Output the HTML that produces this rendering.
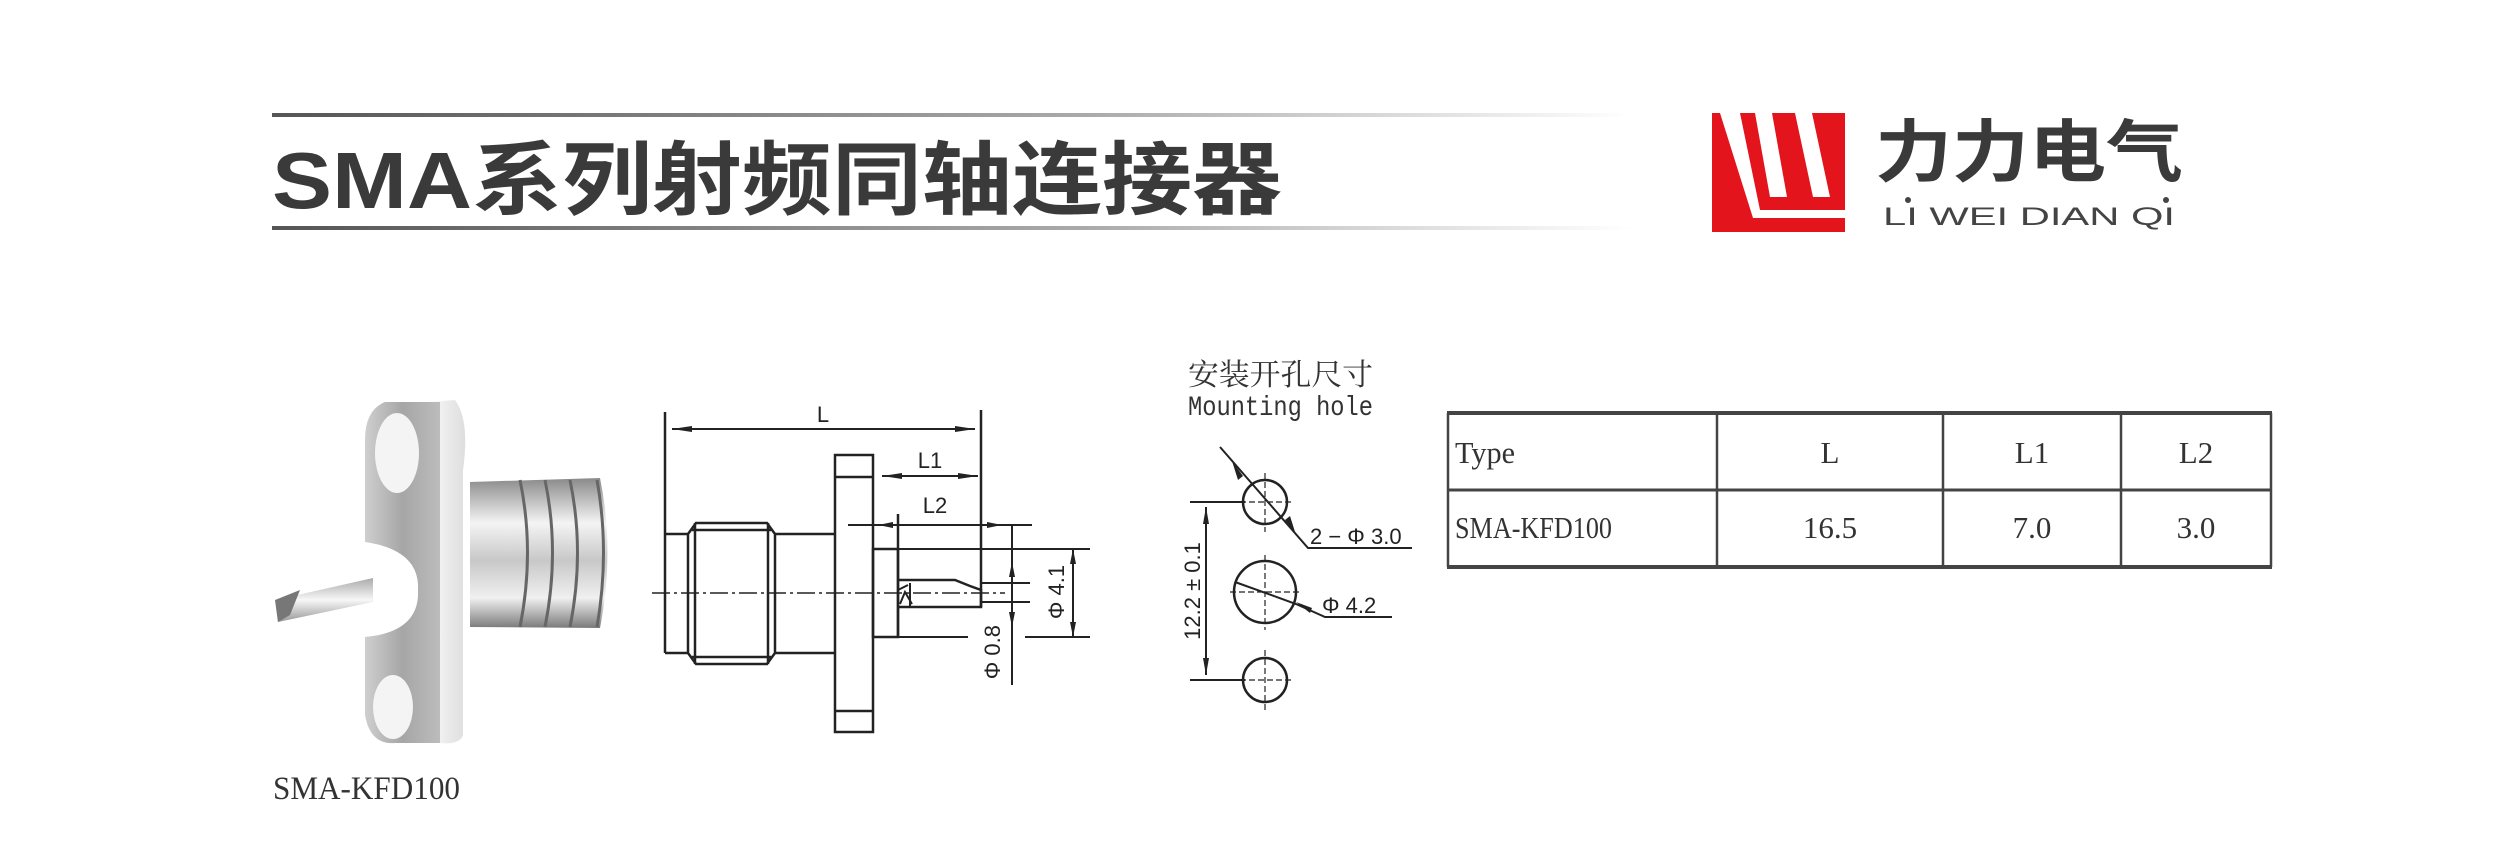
<!DOCTYPE html>
<html><head><meta charset="utf-8"><style>
html,body{margin:0;padding:0;background:#fff;}
svg{display:block;}
.ser{font-family:"Liberation Serif","Noto Serif CJK SC",serif;}
.mono{font-family:"Liberation Mono","Noto Sans CJK SC",monospace;}
.sans{font-family:"Liberation Sans","Noto Sans CJK SC",sans-serif;}
</style></head><body>
<svg width="2515" height="859" viewBox="0 0 2515 859" xmlns="http://www.w3.org/2000/svg">
<defs>
<linearGradient id="ln" x1="0" x2="1" y1="0" y2="0">
<stop offset="0" stop-color="#555"/><stop offset="0.6" stop-color="#aaa"/><stop offset="1" stop-color="#fff"/></linearGradient>
<linearGradient id="fl" x1="0" x2="1"><stop offset="0" stop-color="#cfcfcf"/><stop offset="0.5" stop-color="#a6a6a6"/><stop offset="1" stop-color="#bcbcbc"/></linearGradient>
<linearGradient id="fs" x1="0" x2="1"><stop offset="0" stop-color="#f7f7f7"/><stop offset="1" stop-color="#dedede"/></linearGradient>
<linearGradient id="cy" x1="0" y1="0" x2="0" y2="1"><stop offset="0" stop-color="#8a8a8a"/><stop offset="0.3" stop-color="#f4f4f4"/><stop offset="0.55" stop-color="#c8c8c8"/><stop offset="0.8" stop-color="#f0f0f0"/><stop offset="1" stop-color="#7a7a7a"/></linearGradient>
<linearGradient id="pn" x1="0" y1="0" x2="0" y2="1"><stop offset="0" stop-color="#aaa"/><stop offset="0.5" stop-color="#f7f7f7"/><stop offset="1" stop-color="#999"/></linearGradient>
</defs>

<rect x="272" y="113" width="1360" height="4" fill="url(#ln)"/>
<rect x="272" y="226" width="1360" height="4" fill="url(#ln)"/>
<text x="272" y="208" class="sans" font-size="80" font-weight="bold" fill="#3a3a3a" textLength="1010" lengthAdjust="spacingAndGlyphs">SMA系列射频同轴连接器</text>

<rect x="1712" y="113" width="133" height="119" fill="#e3141b"/>
<polygon points="1720,113 1740,113 1760,210 1845,210 1845,218 1753,218" fill="#fff"/>
<polygon points="1755,113 1772,113 1787,197 1770,197" fill="#fff"/>
<polygon points="1795,113 1812,113 1830,197 1813,197" fill="#fff"/>
<text x="1875" y="176" class="sans" font-size="68" font-weight="bold" fill="#3a3a3a" textLength="308" lengthAdjust="spacingAndGlyphs">力力电气</text>
<text x="1883" y="225" class="sans" font-size="25" fill="#444" textLength="292" lengthAdjust="spacingAndGlyphs">LI WEI DIAN QI</text>
<circle cx="1908" cy="200" r="3" fill="#444"/><circle cx="2166" cy="200" r="3" fill="#444"/>

<g>
<path d="M470,482 L600,478 Q615,552 600,628 L470,627 Z" fill="url(#cy)"/>
<path d="M520,480 Q535,552 520,627 M545,480 Q560,552 545,627 M570,480 Q585,552 570,627 M597,480 Q610,552 597,627" stroke="#666" stroke-width="3" fill="none"/>
<path d="M430,402 L455,400 Q470,420 463,470 L463,735 Q460,745 440,743 L430,743 Z" fill="url(#fs)"/>
<path d="M385,402 Q365,410 365,440 L365,715 Q370,745 395,743 L440,743 L440,402 Z" fill="url(#fl)"/>
<ellipse cx="397" cy="453" rx="22" ry="40" fill="#f4f4f4"/>
<ellipse cx="393" cy="707" rx="20" ry="32" fill="#f4f4f4"/>
<path d="M365,542 Q420,550 418,590 Q420,632 365,637 Z" fill="#fff"/>
<polygon points="275,600 373,578 373,602 278,622" fill="url(#pn)"/>
<polygon points="275,600 300,590 290,615 278,622" fill="#777"/>
</g>
<text x="273" y="799" class="ser" font-size="33" fill="#333" textLength="187" lengthAdjust="spacingAndGlyphs">SMA-KFD100</text>

<g stroke="#222" stroke-width="2.5" fill="none">
<line x1="665" y1="412" x2="665" y2="653"/>
<line x1="981" y1="410" x2="981" y2="607"/>
<line x1="672" y1="429" x2="975" y2="429" stroke-width="2"/>
<rect x="835" y="455" width="38" height="277"/>
<line x1="835" y1="477" x2="873" y2="477"/><line x1="835" y1="711" x2="873" y2="711"/>
<line x1="665" y1="534" x2="688" y2="534"/><line x1="665" y1="653" x2="688" y2="653"/>
<path d="M688,534 L696,523 L767,523 L775,534 L775,653 L767,664 L696,664 L688,653 Z"/>
<line x1="695" y1="523" x2="695" y2="664"/><line x1="768" y1="523" x2="768" y2="664"/>
<line x1="692" y1="530" x2="771" y2="530"/><line x1="692" y1="657" x2="771" y2="657"/>
<line x1="775" y1="534" x2="835" y2="534"/><line x1="775" y1="653" x2="835" y2="653"/>
<rect x="873" y="549" width="25" height="88"/>
<path d="M898,580 L955,580 L970,586 L981,590 L981,607 L898,607"/>
<path d="M898,590 L908,585 M900,604 L905,592 L912,604" stroke-width="2"/>
<line x1="910" y1="583" x2="910" y2="607" stroke-width="2"/>
<line x1="898" y1="514" x2="898" y2="637"/>
<line x1="873" y1="549" x2="1090" y2="549" stroke-width="2"/>
<line x1="898" y1="637" x2="968" y2="637" stroke-width="2"/>
<line x1="1025" y1="637" x2="1090" y2="637" stroke-width="2"/>
<line x1="848" y1="525" x2="1032" y2="525" stroke-width="2"/>
<line x1="882" y1="476" x2="978" y2="476" stroke-width="2"/>
<line x1="981" y1="583" x2="1030" y2="583" stroke-width="2"/>
<line x1="981" y1="602" x2="1030" y2="602" stroke-width="2"/>
<line x1="1012" y1="525" x2="1012" y2="685" stroke-width="2"/>
<line x1="1073" y1="549" x2="1073" y2="637" stroke-width="2"/>
<line x1="652" y1="593" x2="1005" y2="593" stroke-width="1.5" stroke-dasharray="18,4,3,4"/>
</g>
<g fill="#222">
<polygon points="672,429 692,426 692,432"/><polygon points="975,429 955,426 955,432"/>
<polygon points="882,476 902,473 902,479"/><polygon points="978,476 958,473 958,479"/>
<polygon points="878,525 893,522 893,528"/><polygon points="1002,525 987,522 987,528"/>
<polygon points="1012,562 1009,577 1015,577"/><polygon points="1012,627 1009,612 1015,612"/>
<polygon points="1073,549 1070,564 1076,564"/><polygon points="1073,637 1070,622 1076,622"/>
</g>
<g class="sans" font-size="22" fill="#222">
<text x="823" y="422" text-anchor="middle">L</text>
<text x="930" y="468" text-anchor="middle">L1</text>
<text x="935" y="513" text-anchor="middle">L2</text>
<text transform="translate(1000,625) rotate(-90)" text-anchor="end">Φ 0.8</text>
<text transform="translate(1064,592) rotate(-90)" text-anchor="middle">Φ 4.1</text>
</g>

<text x="1188" y="385" class="ser" font-size="30" fill="#333" textLength="185" lengthAdjust="spacingAndGlyphs">安装开孔尺寸</text>
<text x="1188" y="415" class="mono" font-size="28" fill="#333" textLength="185" lengthAdjust="spacingAndGlyphs">Mounting hole</text>
<g stroke="#222" fill="none">
<circle cx="1265" cy="502" r="22" stroke-width="2.5"/>
<circle cx="1265" cy="592" r="31" stroke-width="2.5"/>
<circle cx="1265" cy="680" r="22" stroke-width="2.5"/>
<g stroke-width="1.2" stroke-dasharray="6,3">
<line x1="1265" y1="473" x2="1265" y2="532"/><line x1="1240" y1="502" x2="1293" y2="502"/>
<line x1="1265" y1="555" x2="1265" y2="630"/><line x1="1230" y1="592" x2="1300" y2="592"/>
<line x1="1265" y1="650" x2="1265" y2="710"/><line x1="1240" y1="680" x2="1293" y2="680"/>
</g>
<line x1="1190" y1="502" x2="1245" y2="502" stroke-width="2"/>
<line x1="1190" y1="680" x2="1245" y2="680" stroke-width="2"/>
<line x1="1206" y1="507" x2="1206" y2="675" stroke-width="2"/>
<polyline points="1220,447 1308,548 1412,548" stroke-width="2"/>
<polyline points="1235,582 1296,604 1325,617 1392,617" stroke-width="2"/>
</g>
<g fill="#222">
<polygon points="1206,507 1203,524 1209,524"/><polygon points="1206,675 1203,658 1209,658"/>
<polygon points="1232,461 1243,476 1238,480"/><polygon points="1296,535 1285,520 1290,516"/>
<polygon points="1296,602 1312,608 1310,613"/>
</g>
<g class="sans" font-size="22" fill="#222">
<text transform="translate(1200,591) rotate(-90)" text-anchor="middle">12.2 ± 0.1</text>
<text x="1310" y="544">2 − Φ 3.0</text>
<text x="1322" y="613">Φ 4.2</text>
</g>

<g stroke="#444" fill="none">
<line x1="1447" y1="413" x2="2272" y2="413" stroke-width="4"/>
<line x1="1447" y1="567" x2="2272" y2="567" stroke-width="4"/>
<line x1="1447" y1="490" x2="2272" y2="490" stroke-width="3"/>
<line x1="1448" y1="413" x2="1448" y2="567" stroke-width="2.5"/>
<line x1="1717" y1="413" x2="1717" y2="567" stroke-width="2.5"/>
<line x1="1943" y1="413" x2="1943" y2="567" stroke-width="2.5"/>
<line x1="2121" y1="413" x2="2121" y2="567" stroke-width="2.5"/>
<line x1="2271" y1="413" x2="2271" y2="567" stroke-width="2.5"/>
</g>
<g class="ser" font-size="31" fill="#333">
<text x="1455" y="463" textLength="60" lengthAdjust="spacingAndGlyphs">Type</text>
<text x="1455" y="538" textLength="157" lengthAdjust="spacingAndGlyphs">SMA-KFD100</text>
<text x="1830" y="463" text-anchor="middle">L</text>
<text x="2032" y="463" text-anchor="middle">L1</text>
<text x="2196" y="463" text-anchor="middle">L2</text>
<text x="1830" y="538" text-anchor="middle">16.5</text>
<text x="2032" y="538" text-anchor="middle">7.0</text>
<text x="2196" y="538" text-anchor="middle">3.0</text>
</g>
</svg>
</body></html>
